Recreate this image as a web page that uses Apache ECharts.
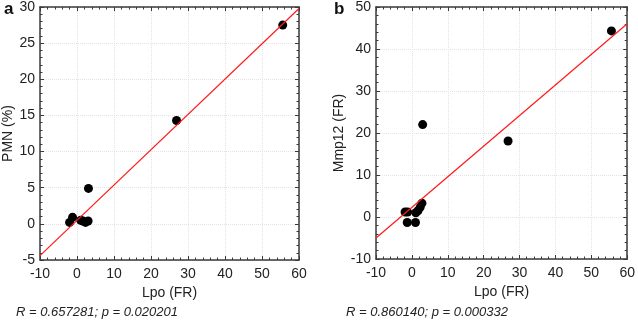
<!DOCTYPE html>
<html>
<head>
<meta charset="utf-8">
<style>
  html, body { margin: 0; padding: 0; background: #fff; }
  #chart { width: 638px; height: 323px; }
</style>
<script src="https://cdn.jsdelivr.net/npm/echarts@6/dist/echarts.min.js"></script>
</head>
<body>
<div id="chart"></div>
<script>
// panel a: Lpo vs PMN
var lpoA = [-2.0, -1.2, 1.0, 1.6, 2.3, 3.0, 3.1, 26.9, 55.6]
var pmn = [0.2, 0.9, 0.5, 0.4, 0.2, 0.4, 4.9, 14.3, 27.5]
var fitA = [[-10, -4.4], [60, 29.8]]
// panel b: Lpo vs Mmp12
var lpoB = [-1.9, -1.2, -1.3, 1.0, 1.1, 1.7, 2.3, 2.8, 3.0, 26.8, 55.6]
var mmp12 = [1.2, 1.2, -1.3, -1.3, 1.0, 1.5, 2.3, 3.3, 22.0, 18.1, 44.3]
var fitB = [[-10, -5.0], [60, 46.0]]

var statA = 'R = 0.657281; p = 0.020201'
var statB = 'R = 0.860140; p = 0.000332'

var FONT = 'Liberation Sans, Arial, sans-serif'
var chart = echarts.init(document.getElementById('chart'))

function pairs(xs, ys) {
  var out = []
  for (var i = 0; i < xs.length; i++) {
    out.push([xs[i], ys[i]])
  }
  return out
}

function axis(gridIndex, min, max, interval, pos, opts) {
  var labels = pos === 'bottom' || pos === 'left'
  var a = {
    type: 'value',
    gridIndex: gridIndex,
    position: pos,
    min: min,
    max: max,
    interval: interval,
    axisLine: { show: true, onZero: false, lineStyle: { color: '#3a3a3a', width: 1.5 } },
    axisTick: { show: true, inside: true, length: 4, lineStyle: { color: '#3a3a3a' } },
    minorTick: { show: true, splitNumber: 5, length: 2.5, lineStyle: { color: '#3a3a3a' } },
    axisLabel: { show: labels, color: '#222', fontSize: 14, fontFamily: FONT, margin: pos === 'bottom' ? 7 : 5 },
    splitLine: { show: labels, lineStyle: { color: '#e4e4e4', type: 'dotted' } }
  }
  return Object.assign(a, opts || {})
}

var nameStyle = { color: '#222', fontSize: 14, fontFamily: FONT }

chart.setOption({
  animation: false,
  grid: [
    { left: 40, right: 339, top: 6, bottom: 63 },
    { left: 376, right: 8, top: 6, bottom: 64 }
  ],
  xAxis: [
    axis(0, -10, 60, 10, 'bottom', { name: 'Lpo (FR)', nameLocation: 'middle', nameGap: 26, nameTextStyle: nameStyle }),
    axis(0, -10, 60, 10, 'top'),
    axis(1, -10, 60, 10, 'bottom', { name: 'Lpo (FR)', nameLocation: 'middle', nameGap: 26, nameTextStyle: nameStyle }),
    axis(1, -10, 60, 10, 'top')
  ],
  yAxis: [
    axis(0, -5, 30, 5, 'left', { name: 'PMN (%)', nameLocation: 'middle', nameGap: 24, nameTextStyle: nameStyle }),
    axis(0, -5, 30, 5, 'right'),
    axis(1, -10, 50, 10, 'left', { name: 'Mmp12 (FR)', nameLocation: 'middle', nameGap: 30, nameTextStyle: nameStyle }),
    axis(1, -10, 50, 10, 'right')
  ],
  graphic: [
    { type: 'text', left: 4, top: 1, style: { text: 'a', font: 'bold 17px ' + FONT, fill: '#111' } },
    { type: 'text', left: 334, top: 1, style: { text: 'b', font: 'bold 17px ' + FONT, fill: '#111' } },
    { type: 'text', left: 16, top: 306, style: { text: statA, font: 'italic 13px ' + FONT, fill: '#222' } },
    { type: 'text', left: 346, top: 306, style: { text: statB, font: 'italic 13px ' + FONT, fill: '#222' } }
  ],
  series: [
    {
      type: 'line',
      xAxisIndex: 0,
      yAxisIndex: 0,
      data: fitA,
      symbol: 'none',
      lineStyle: { color: '#ff1a1a', width: 1.2 }
    },
    {
      type: 'scatter',
      xAxisIndex: 0,
      yAxisIndex: 0,
      data: pairs(lpoA, pmn),
      symbolSize: 9,
      itemStyle: { color: '#000', opacity: 1 }
    },
    {
      type: 'line',
      xAxisIndex: 2,
      yAxisIndex: 2,
      data: fitB,
      symbol: 'none',
      lineStyle: { color: '#ff1a1a', width: 1.2 }
    },
    {
      type: 'scatter',
      xAxisIndex: 2,
      yAxisIndex: 2,
      data: pairs(lpoB, mmp12),
      symbolSize: 9,
      itemStyle: { color: '#000', opacity: 1 }
    }
  ]
})
</script>
</body>
</html>
